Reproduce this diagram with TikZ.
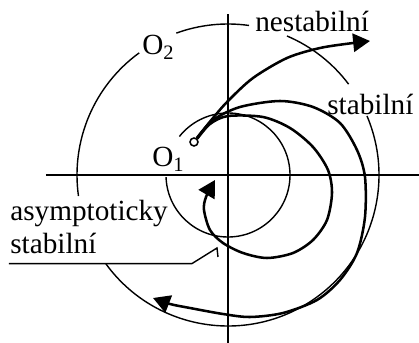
\documentclass[tikz,border=0pt]{standalone}
\usepackage{fontspec}
\setmainfont{Liberation Serif}
\usetikzlibrary{arrows.meta}

\tikzset{
  tenka/.style={line width=1pt},
  drah/.style={line width=1.8pt, -{Triangle[length=12pt,width=13pt]}},
  popis/.style={inner sep=0pt, anchor=base west, font=\fontsize{20.8}{24}\selectfont},
}

\begin{document}
\begin{tikzpicture}[x=0.25cm, y=0.25cm]
  \useasboundingbox (-22.8,-16.8) rectangle (19.1,17.5);

  \coordinate (xl) at (-18.2,0);
  \coordinate (xr) at (19.1,0);
  \coordinate (yd) at (0,-16.8);
  \coordinate (yu) at (0,16.1);
  \draw[tenka] (xl) -- (xr);
  \draw[tenka] (yd) -- (yu);

  \draw[tenka] (37:15.1) arc[start angle=37, end angle=67, radius=15.1];
  \draw[tenka] (82:15.1) arc[start angle=82, end angle=110, radius=15.1];
  \draw[tenka] (126:15.1) arc[start angle=126, end angle=188, radius=15.1];
  \draw[tenka] (216:15.1) arc[start angle=216, end angle=383, radius=15.1];
  \draw[tenka] (182:6.2) arc[start angle=182, end angle=501.6, radius=6.2];

  \node[popis] (nest) at (2.7,14.35) {nestabilní};
  \node[popis] (o2) at (-8.6,12.0) {O\textsubscript{2}};
  \node[popis] (stab) at (9.9,6.0) {stabilní};
  \node[popis] (o1) at (-7.6,0.8) {O\textsubscript{1}};
  \node[popis] (asym) at (-21.8,-4.6) {asymptoticky};
  \node[popis] (astab) at (-21.8,-7.9) {stabilní};

  \coordinate (kon) at (-1.1,-7.3);
  \draw[tenka] (astab.south west) ++(-0.1,-0.9) -- ++(18.3,0) -- (kon) -- ++(0.1,-0.9);

  \node[draw, circle, line width=1.1pt, inner sep=0pt, minimum size=0.2cm] (bod) at (-3.4,3.3) {};

  \draw[drah] plot[smooth] coordinates {(bod.55) (-1.5,5.7) (0,7.4) (2.5,9.7) (5.9,11.7) (9.2,12.7) (12.5,13.2) (14.2,13.4)};
  \draw[drah] plot[smooth] coordinates {(bod.50) (-1.5,5.5) (1.2,6.8) (5.2,7.4) (8.5,6.8) (11.2,5.2) (12.9,2.5) (13.7,-0.2) (13.7,-4.2) (12.9,-7.8) (11.2,-10.5) (8.9,-12.5) (5.5,-13.8) (2.2,-14.2) (-0.5,-13.9) (-3.8,-13.3) (-5.8,-12.9) (-7.5,-12.3)};
  \draw[drah] plot[smooth] coordinates {(bod.45) (-1.8,5.1) (0,5.9) (3.5,5.8) (6.2,4.7) (8.5,2.8) (10,0.5) (10.4,-1.8) (9.9,-4.5) (8.5,-6.5) (6.5,-7.8) (3.9,-8.3) (1.5,-7.8) (-0.5,-6.8) (-1.8,-5.5) (-2.4,-3.5) (-2.2,-2.2) (-1.3,-0.5)};
\end{tikzpicture}
\end{document}
